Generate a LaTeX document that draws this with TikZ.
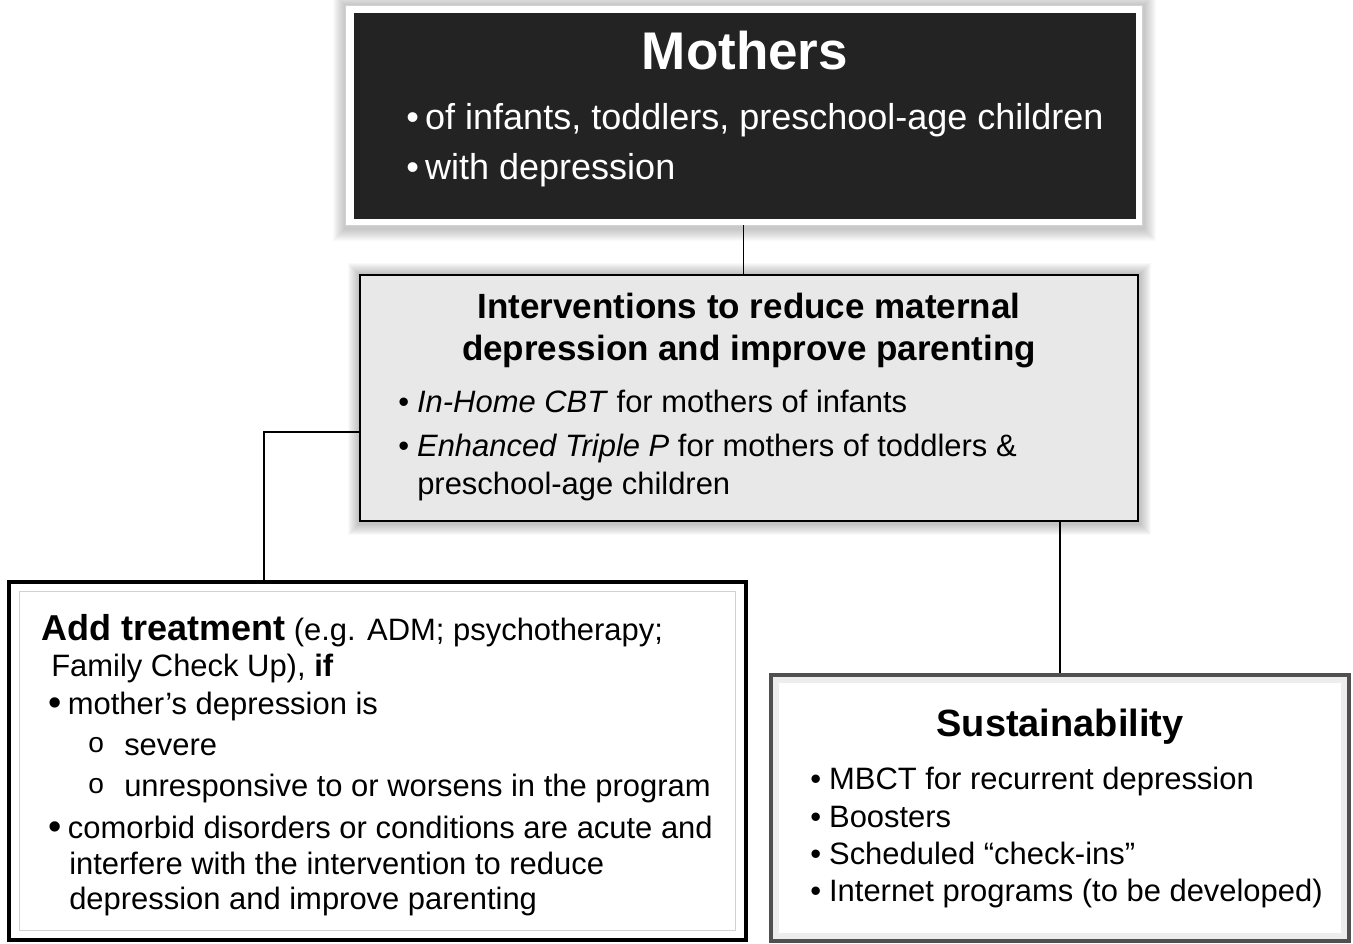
\documentclass[tikz,border=0pt]{standalone}
\usepackage{fontspec}
\setmainfont{Liberation Sans}
\usetikzlibrary{positioning,fit,backgrounds}
\definecolor{darkfill}{RGB}{35,35,35}
\definecolor{lightfill}{RGB}{232,232,232}
\definecolor{framegray}{RGB}{80,80,80}
\newcommand{\fMothers}{\fontsize{37.7}{40}\selectfont\bfseries}
\newcommand{\fMomList}{\fontsize{25.6}{30}\selectfont}
\newcommand{\fHead}{\fontsize{24.9}{30}\selectfont\bfseries}
\newcommand{\fBody}{\fontsize{22}{26}\selectfont}
\newcommand{\fAdd}{\fontsize{25.6}{30}\selectfont\bfseries}
\newcommand{\fSust}{\fontsize{27}{32}\selectfont\bfseries}
\newcommand{\subdot}{\makebox[25.6pt][l]{\raisebox{2pt}{\fontsize{20}{20}\selectfont o}}}
\newcommand{\bigdot}{\raisebox{-1pt}{\fontsize{27}{27}\selectfont •}}
\tikzset{
    % Box styles
    whiteframe/.style={
        rectangle, fill=white, draw=gray!35, line width=0.6pt, inner sep=0pt
    },
    darkbox/.style={
        rectangle, fill=darkfill, inner sep=0pt
    },
    graybox/.style={
        rectangle, fill=lightfill, draw=black, line width=1.9pt, inner sep=0pt
    },
    blackbox/.style={
        rectangle, fill=white, draw=black, line width=3.4pt, inner sep=0pt
    },
    sustbox/.style={
        rectangle, fill=white, draw=framegray, line width=2.8pt, inner sep=0pt
    },
    innerline/.style={draw=gray!35, line width=1.1pt},
    bevel/.style={draw=gray!14, line width=4pt},
    % Text and connector styles
    txt/.style={anchor=base west, inner sep=0pt},
    connector/.style={draw=black, line width=1.3pt}
}

\begin{document}
\begin{tikzpicture}[x=0.025cm, y=-0.025cm]
\useasboundingbox (0,0) rectangle (1353,943);

% Mothers box
\node[whiteframe, fit={(345,5) (1142,225)}] (mothersframe) {};
\node[darkbox, fit={(354,13) (1136,219)}] (mothers) {};
\node[txt, anchor=base, text=white, font=\fMothers] (motherstitle) at (745,69) {Mothers};
\node[txt, text=white, font=\fMomList] (mothers1) at (406,129) {•\hspace{4.5pt}of infants, toddlers, preschool-age children};
\node[txt, text=white, font=\fMomList] (mothers2) at (406,179) {•\hspace{4.5pt}with depression};

% Interventions box
\node[graybox, fit={(360,275) (1138,521)}] (interv) {};
\node[txt, anchor=base, font=\fHead] (intervtitle1) at (749,318) {Interventions to reduce maternal};
\node[txt, anchor=base, font=\fHead] (intervtitle2) at (749,360) {depression and improve parenting};
\node[txt, font=\fBody] (interv1) at (398,412) {•\hspace{5.7pt}\textit{In-Home CBT} for mothers of infants};
\node[txt, font=\fBody] (interv2) at (398,456) {•\hspace{5.7pt}\textit{Enhanced Triple P} for mothers of toddlers \&};
\node[txt, font=\fBody] (interv3) at (417,494) {preschool-age children};

% Add treatment box
\node[blackbox, fit={(9,582) (746,940)}] (addtx) {};
\draw[innerline] ([shift={(13,12)}]addtx.north west) rectangle ([shift={(-13,-12)}]addtx.south east);
\node[txt, font=\fBody] (add1) at (41,640) {{\fAdd Add treatment} (e.g. ADM; psychotherapy;};
\node[txt, font=\fBody] (add2) at (51,676) {Family Check Up), \textbf{if}};
\node[txt, font=\fBody] (add3) at (48,714) {\bigdot\hspace{4.5pt}mother’s depression is};
\node[txt, font=\fBody] (add4) at (88,755) {\subdot severe};
\node[txt, font=\fBody] (add5) at (88,796) {\subdot unresponsive to or worsens in the program};
\node[txt, font=\fBody] (add6) at (48,838) {\bigdot\hspace{4.5pt}comorbid disorders or conditions are acute and};
\node[txt, font=\fBody] (add7) at (69,874) {interfere with the intervention to reduce};
\node[txt, font=\fBody] (add8) at (69,909) {depression and improve parenting};

% Sustainability box
\node[sustbox, fit={(771,675) (1349,941)}] (sust) {};
\draw[bevel] ([shift={(7,7)}]sust.north west) rectangle ([shift={(-7,-7)}]sust.south east);
\node[txt, anchor=base, font=\fSust] (susttitle) at (1060,736) {Sustainability};
\node[txt, font=\fBody] (sust1) at (810,789) {•\hspace{5.7pt}MBCT for recurrent depression};
\node[txt, font=\fBody] (sust2) at (810,827) {•\hspace{5.7pt}Boosters};
\node[txt, font=\fBody] (sust3) at (810,864) {•\hspace{5.7pt}Scheduled “check-ins”};
\node[txt, font=\fBody] (sust4) at (810,901) {•\hspace{5.7pt}Internet programs (to be developed)};

% Soft shadows
\begin{scope}[on background layer]
  \foreach \d in {1,...,12}
    \fill[black, opacity=0.02] ([shift={(-\d,-\d)}]mothersframe.north west) rectangle ([shift={({\d+2},{\d+4})}]mothersframe.south east);
  \foreach \d in {1,...,11}
    \fill[black, opacity=0.025] ([shift={(-\d,-\d)}]interv.north west) rectangle ([shift={({\d+1},{\d+2})}]interv.south east);
\end{scope}

% Connectors
\coordinate (ljoin) at (264,432);
\draw[connector] (mothersframe.south) -- (mothersframe.south |- interv.north);
\draw[connector] (interv.west |- ljoin) -- (ljoin) -- (ljoin |- addtx.north);
\draw[connector] (interv.south -| sust.north) -- (sust.north);

\end{tikzpicture}
\end{document}
